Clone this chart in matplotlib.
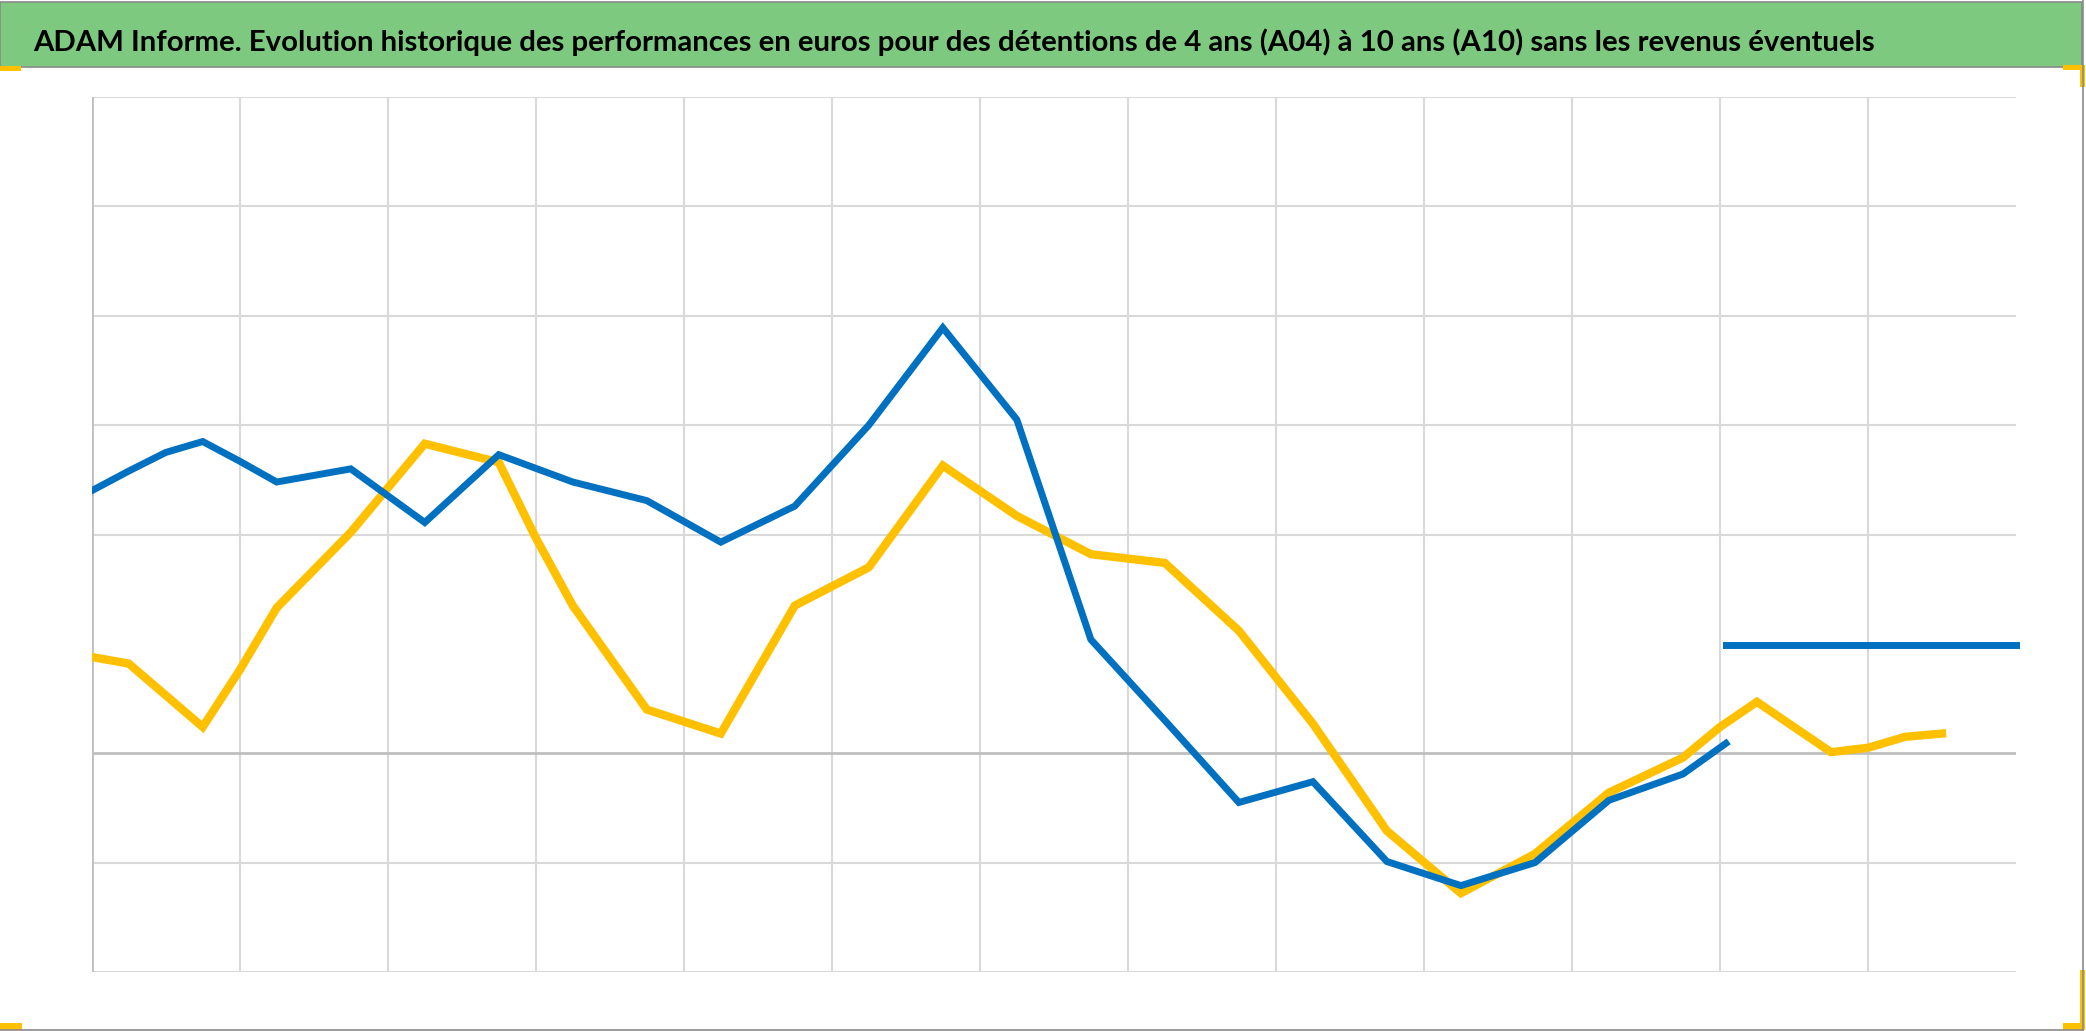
import matplotlib
matplotlib.use("Agg")
import matplotlib.pyplot as plt
from matplotlib import font_manager
from matplotlib.patches import Rectangle

# Blue series (vertices)
blue_x = [0, 0.25, 0.5, 0.75, 1.0, 1.25, 1.75, 2.25, 2.75, 3.25, 3.75, 4.25, 4.75, 5.25,
          5.75, 6.25, 6.75, 7.25, 7.75, 8.25, 8.75, 9.25, 9.75, 10.25, 10.75, 11.04]
blue_y = [2.40, 2.58, 2.75, 2.85, 2.67, 2.48, 2.60, 2.11, 2.73, 2.48, 2.31, 1.93, 2.26, 3.00,
          3.89, 3.05, 1.04, 0.30, -0.45, -0.26, -0.99, -1.21, -1.00, -0.43, -0.19, 0.09]

# Flat blue segment on the right
blue_flat_x = [11.04, 13.0]
blue_flat_y = [0.99, 0.99]

# Yellow series
yellow_x = [0, 0.25, 0.75, 1.0, 1.25, 1.75, 2.25, 2.75, 3.0, 3.25, 3.75, 4.25, 4.75, 5.25,
            5.75, 6.25, 6.75, 7.25, 7.75, 8.25, 8.75, 9.25, 9.75, 10.25, 10.75, 11.0,
            11.25, 11.75, 12.0, 12.25, 12.5]
yellow_y = [0.88, 0.82, 0.24, 0.76, 1.33, 2.02, 2.83, 2.66, 1.97, 1.35, 0.40, 0.18, 1.35, 1.70,
            2.63, 2.17, 1.82, 1.74, 1.12, 0.27, -0.71, -1.28, -0.92, -0.36, -0.04, 0.24,
            0.47, 0.01, 0.05, 0.15, 0.18]

title = ("ADAM Informe. Evolution historique des performances en euros pour des "
         "détentions de 4 ans (A04) à 10 ans (A10) sans les revenus éventuels")

W, H = 2086, 1031
fig = plt.figure(figsize=(W / 100, H / 100), dpi=100)
fig.patch.set_facecolor("white")

# title bar
fig.patches.append(Rectangle((0, 1 - 67 / H), 2082 / W, 65 / H, transform=fig.transFigure,
                             facecolor="#7DC97F", edgecolor="#8a8a8a", linewidth=1.2, zorder=0))
# right and bottom frame
fig.add_artist(plt.Line2D([2083 / W, 2083 / W], [1 - 1030 / H, 1], transform=fig.transFigure,
                          color="#8a8a8a", linewidth=1.2))
fig.add_artist(plt.Line2D([0, 2083 / W], [1 - 1030 / H, 1 - 1030 / H], transform=fig.transFigure,
                          color="#8a8a8a", linewidth=1.2))

# yellow corner marks
yel = "#FFC000"
for (x0, y0, w, h) in [(0, 66, 21, 5), (2063, 65, 22, 5), (2080, 65, 5, 22),
                       (0, 1023, 22, 7), (2063, 1023, 22, 7), (2080, 970, 5, 60)]:
    fig.patches.append(Rectangle((x0 / W, 1 - (y0 + h) / H), w / W, h / H,
                                 transform=fig.transFigure, facecolor=yel, edgecolor="none"))

# title font: narrow-ish bold face
names = {f.name for f in font_manager.fontManager.ttflist}
if "Liberation Sans Narrow" in names:
    tfont = dict(family="Liberation Sans Narrow", weight="bold")
elif "Lato" in names:
    tfont = dict(family="Lato", weight="bold")
else:
    tfont = dict(family="DejaVu Sans", weight="bold")

t = fig.text(33 / W, 1 - 51 / H, title, fontsize=27, color="black", va="baseline",
             ha="left", **tfont)
fig.canvas.draw()
width = t.get_window_extent().width
t.set_fontsize(27 * 1843 / width)

ax = fig.add_axes([91.7 / W, 1 - 972 / H, (2016 - 91.7) / W, (972 - 97) / H])
ax.set_xlim(0, 13)
ax.set_ylim(-2, 6)

# grid
for gx in range(1, 13):
    ax.axvline(gx, color="#D9D9D9", linewidth=1.5, zorder=1)
for gy in [-2, -1, 2, 3, 4, 5, 6]:
    ax.axhline(gy, color="#D9D9D9", linewidth=1.5, zorder=1)
ax.axhline(0, color="#BFBFBF", linewidth=2, zorder=1)

for s in ax.spines.values():
    s.set_visible(False)
ax.axvline(0, color="#BFBFBF", linewidth=2, zorder=1)
ax.set_xticks([])
ax.set_yticks([])

ax.plot(yellow_x, yellow_y, color=yel, linewidth=6, solid_joinstyle="miter", zorder=3)
ax.plot(blue_x, blue_y, color="#0070C0", linewidth=5, solid_joinstyle="miter", zorder=4)
ax.plot(blue_flat_x, blue_flat_y, color="#0070C0", linewidth=5, zorder=4, clip_on=False)

fig.savefig("out.png", dpi=100)
